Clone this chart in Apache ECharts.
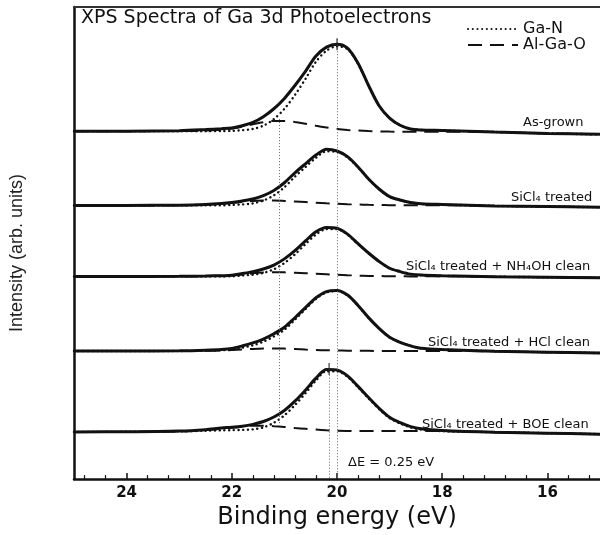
<!DOCTYPE html>
<html>
<head>
<meta charset="utf-8">
<script src="https://cdn.jsdelivr.net/npm/echarts@6/dist/echarts.min.js"></script>
<style>
html,body{margin:0;padding:0;background:#fff;}
#chart{width:600px;height:535px;}
</style>
</head>
<body>
<div id="chart"></div>
<script>
// Binding energies (eV) at which each spectrum is sampled
const energies = [25, 24, 23, 22.5, 22.2, 22.0, 21.8, 21.6, 21.4, 21.2, 21.0, 20.8, 20.6, 20.4, 20.2, 20.0, 19.8, 19.6, 19.4, 19.2, 19.0, 18.8, 18.6, 18.4, 18.0, 17, 16, 15];

// Panel names (bottom labels) and vertical stacking offsets (arb. units)
const panelNames = ['As-grown', 'SiCl₄ treated', 'SiCl₄ treated + NH₄OH clean', 'SiCl₄ treated + HCl clean', 'SiCl₄ treated + BOE clean'];
const panelOffsets = [356, 280, 207.3, 131, 48.3];

// Measured envelope (solid)
const sum1 = [0, 0, 0.5, 1.6, 2.5, 3.3, 5.5, 8.9, 14.8, 22.9, 33.5, 46.7, 61.2, 76.8, 86, 89, 85, 69.5, 46.7, 26, 13.4, 6, 2.2, 1.2, 0.7, -0.9, -2.3, -3.3];
const sum2 = [0, 0, 0.3, 1.0, 2.0, 3.1, 4.6, 6.6, 10, 15.3, 23.2, 33.4, 42.6, 51.5, 57.5, 55.7, 49.9, 39.4, 27, 16.8, 9, 5.5, 3.0, 1.7, 1.0, -0.5, -1.2, -1.8];
const sum3 = [0, 0, 0.2, 0.5, 0.8, 1.2, 3.0, 5.0, 7.7, 11.7, 18, 26.4, 36.4, 45.7, 50.2, 49.3, 43.3, 33.5, 24, 15.4, 8.4, 5.0, 2.4, 1.4, 0.8, -0.2, -0.8, -1.3];
const sum4 = [0, 0, 0.3, 0.9, 1.6, 2.7, 5.3, 8.3, 12.3, 17.7, 24.3, 34.1, 44.4, 54.5, 60.8, 62, 57.3, 46.7, 34.2, 23.2, 14.1, 8.9, 5.3, 2.8, 1.5, -0.2, -1.2, -2];
const sum5 = [0, 0.1, 0.8, 2.3, 4.0, 4.7, 5.8, 7.7, 10.6, 15.2, 21.9, 31.4, 42.7, 55, 63.8, 63.3, 57.3, 46.6, 35.1, 24.2, 15, 9.4, 5.4, 3.2, 1.5, -0.3, -1.3, -2.3];

// Ga-N component (dotted)
const gaN1 = [0, 0, 0, 0, 0.1, 0.3, 1.0, 2.2, 5.6, 12.3, 22.8, 37, 53.4, 71, 82.3, 86.8, 83.8, 68.9, 46.6, 26, 13.4, 6, 2.2, 1.2, 0.7, -0.9, -2.3, -3.3];
const gaN2 = [0, 0, 0.1, 0.2, 0.2, 0.5, 1.0, 2.1, 5.0, 10.3, 18.6, 29.4, 39.2, 48.7, 55.3, 55, 49, 39, 26.8, 16.6, 8.8, 5.4, 2.9, 1.6, 0.9, -0.5, -1.2, -1.8];
const gaN3 = [0, 0, 0.1, 0.1, 0.1, 0.2, 1.0, 1.8, 3.7, 7.4, 13.8, 22.6, 33.1, 42.9, 48.5, 48.6, 42.8, 33.2, 23.8, 15.3, 8.3, 4.9, 2.3, 1.3, 0.7, -0.2, -0.8, -1.3];
const gaN4 = [0, 0, 0.1, 0.4, 0.8, 1.4, 3.4, 5.9, 9.6, 15, 21.8, 32.1, 42.9, 53.4, 60, 61.4, 57, 46.4, 34, 23.1, 14, 8.9, 5.3, 2.8, 1.5, -0.2, -1.2, -2];
const gaN5 = [0, 0.1, 0.5, 1.2, 1.6, 1.8, 2.0, 2.6, 4.6, 9.4, 16.9, 27.4, 39.5, 52.6, 62.1, 62.1, 56.3, 45.7, 34.3, 23.4, 14.2, 8.6, 4.6, 2.4, 0.7, -0.3, -1.3, -2.3];

// Al-Ga-O component (dashed)
const alGaO1 = [0, 0, 0.1, 0.6, 1.6, 2.6, 4.6, 7.0, 9.2, 10.4, 10.4, 9.3, 7.6, 5.5, 3.7, 2.2, 1.2, 0.6, 0.1, -0.3, -0.5, -0.6, -0.7, -0.7, -0.5, -0.9, -2.3, -3.3];
const alGaO2 = [0, 0, 0.2, 0.8, 1.8, 2.6, 3.6, 4.5, 5.0, 5.0, 4.6, 4.0, 3.4, 2.8, 2.2, 1.7, 1.2, 0.9, 0.6, 0.4, 0.3, 0.2, 0.1, 0.1, 0.3, -0.5, -1.2, -1.8];
const alGaO3 = [0, 0, 0.1, 0.4, 0.7, 1.0, 2.0, 3.2, 4.0, 4.3, 4.2, 3.8, 3.3, 2.8, 2.3, 1.8, 1.3, 0.9, 0.6, 0.4, 0.3, 0.2, 0.1, 0.1, 0.2, -0.2, -0.8, -1.3];
const alGaO4 = [0, 0, 0.1, 0.3, 0.6, 1.0, 1.6, 2.2, 2.6, 2.7, 2.5, 2.0, 1.5, 1.1, 0.8, 0.6, 0.4, 0.3, 0.2, 0.1, 0.1, 0, 0, 0, 0, -0.2, -1.2, -2];
const alGaO5 = [0, 0, 0.5, 1.8, 3.2, 4.2, 5.3, 6.3, 6.3, 5.8, 5.0, 4.0, 3.2, 2.4, 1.7, 1.2, 1.0, 0.9, 0.8, 0.8, 0.8, 0.8, 0.8, 0.8, 0.8, -0.3, -1.3, -2.3];

// Axis ticks / labels
const tickLabels = [16, 18, 20, 22, 24];
const minorTicks = [15.2, 15.6, 16.4, 16.8, 17.2, 17.6, 18.4, 18.8, 19.2, 19.6, 20.4, 20.8, 21.2, 21.6, 22.4, 22.8, 23.2, 23.6, 24.4, 24.8];

// Vertical guide lines (energy, top, bottom in intensity units) and peak markers
const guideLines = [
  {energy: 20.0, top: 450, bottom: 0},
  {energy: 21.1, top: 368.3, bottom: 55},
  {energy: 20.15, top: 113, bottom: 0}
];
const peakMarks = [[20.0, 445], [20.15, 112.7]];

const sums = [sum1, sum2, sum3, sum4, sum5];
const gaNs = [gaN1, gaN2, gaN3, gaN4, gaN5];
const alGaOs = [alGaO1, alGaO2, alGaO3, alGaO4, alGaO5];

function pts(vals, off) { return energies.map((e, i) => [e, off + vals[i]]); }

const FONT = '"DejaVu Sans", Verdana, sans-serif';
const SMOOTH = 0.3;
const series = [];
for (let p = 0; p < 5; p++) {
  const off = panelOffsets[p];
  series.push({
    type: 'line', name: 'Ga-N', data: pts(gaNs[p], off), symbol: 'none', smooth: SMOOTH,
    lineStyle: {type: [0.1, 4.6], cap: 'round', width: 2.4, color: '#111'}, itemStyle: {color: '#111'}, z: 3, silent: true
  });
  series.push({
    type: 'line', name: 'Al-Ga-O', data: pts(alGaOs[p], off), symbol: 'none', smooth: SMOOTH,
    lineStyle: {type: [14, 8], width: 2, color: '#111'}, itemStyle: {color: '#111'}, z: 3, silent: true
  });
  const s = {
    type: 'line', name: panelNames[p], data: pts(sums[p], off), symbol: 'none', smooth: SMOOTH,
    lineStyle: {type: 'solid', width: 3, color: '#111'}, itemStyle: {color: '#111'}, z: 4, silent: true
  };
  if (p === 0) {
    s.markLine = {
      silent: true, symbol: ['none', 'none'], label: {show: false}, animation: false,
      lineStyle: {type: [1, 2], color: '#666', width: 1},
      data: guideLines.map(g => [{coord: [g.energy, g.top]}, {coord: [g.energy, g.bottom]}])
    };
  }
  series.push(s);
}
series.push({
  type: 'scatter', name: 'peak', data: peakMarks, silent: true, z: 5,
  symbol: 'path://M4,0h1.4v12h-1.4z M0,5.3h9.4v1.4h-9.4z', symbolSize: [9, 12],
  itemStyle: {color: '#222'}
});

const labelPos = [
  [523, 123], [511, 198], [406, 267], [428, 343], [422, 425]
];
const graphics = panelNames.map((t, i) => ({
  type: 'text', x: labelPos[i][0], y: labelPos[i][1], silent: true,
  style: {text: t, fontFamily: FONT, fontSize: 13, fill: '#111', verticalAlign: 'middle', align: 'left'}
}));
graphics.push({
  type: 'text', x: 348, y: 463, silent: true,
  style: {text: 'ΔE = 0.25 eV', fontFamily: FONT, fontSize: 13, fill: '#111', verticalAlign: 'middle', align: 'left'}
});

const chart = echarts.init(document.getElementById('chart'), null, {renderer: 'canvas'});
chart.setOption({
  animation: false,
  backgroundColor: '#fff',
  title: {
    text: 'XPS Spectra of Ga 3d Photoelectrons', left: 81, top: 9, padding: 0,
    textStyle: {fontFamily: FONT, fontSize: 19, fontWeight: 'normal', color: '#111'}
  },
  legend: {
    data: ['Ga-N', 'Al-Ga-O'], orient: 'vertical', left: 462, top: 16,
    itemWidth: 50, itemHeight: 14, itemGap: 0, selectedMode: false,
    itemStyle: {opacity: 0},
    textStyle: {fontFamily: FONT, fontSize: 16, color: '#111', lineHeight: 16}
  },
  grid: {left: 74, top: 7, width: 528, bottom: 45, containLabel: false},
  xAxis: [
    {
      type: 'value', min: 15, max: 25, inverse: true, position: 'bottom',
      axisLine: {show: true, lineStyle: {color: '#111', width: 2.5}},
      axisTick: {show: true, inside: true, length: 6, customValues: tickLabels, lineStyle: {color: '#111', width: 1.5}},
      axisLabel: {customValues: tickLabels, fontFamily: FONT, fontSize: 15, fontWeight: 'bold', color: '#111', margin: 7},
      splitLine: {show: false},
      name: 'Binding energy (eV)', nameLocation: 'middle', nameGap: 26,
      nameTextStyle: {fontFamily: FONT, fontSize: 24, color: '#111'}
    },
    {
      type: 'value', min: 15, max: 25, inverse: true, position: 'bottom',
      axisLine: {show: false},
      axisTick: {show: true, inside: true, length: 4, customValues: minorTicks, lineStyle: {color: '#111', width: 1.2}},
      axisLabel: {show: false}, splitLine: {show: false}
    },
    {
      type: 'value', min: 15, max: 25, inverse: true, position: 'top',
      axisLine: {show: true, lineStyle: {color: '#333', width: 2}},
      axisTick: {show: false}, axisLabel: {show: false}, splitLine: {show: false}
    }
  ],
  yAxis: {
    type: 'value', min: 0, max: 483,
    axisLine: {show: true, lineStyle: {color: '#111', width: 2.5}},
    axisTick: {show: false}, axisLabel: {show: false}, splitLine: {show: false},
    name: 'Intensity (arb. units)', nameLocation: 'middle', nameGap: 48,
    nameTextStyle: {fontFamily: '"Liberation Sans", Arial, sans-serif', fontSize: 18, color: '#222', padding: [0, 20, 0, 0]}
  },
  graphic: graphics,
  series: series
});
</script>
</body>
</html>
